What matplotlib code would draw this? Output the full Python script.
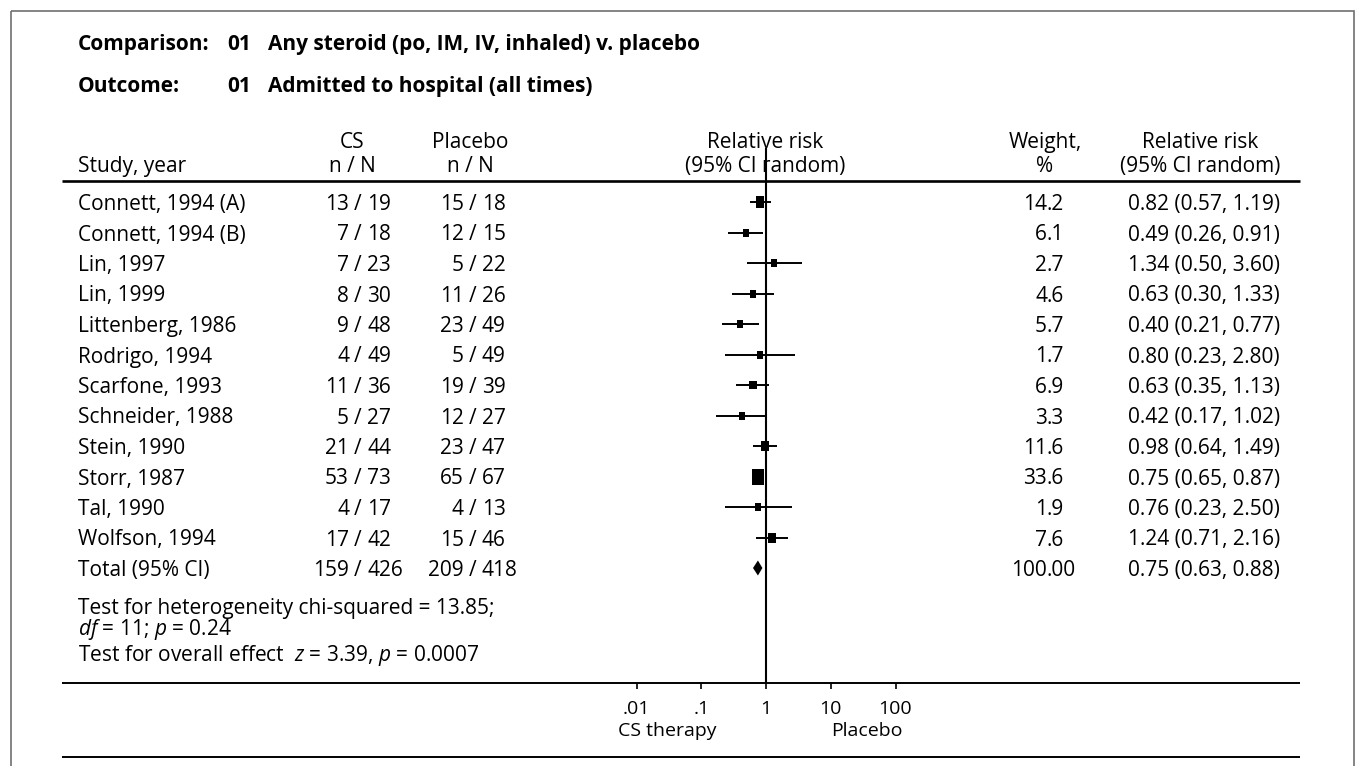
import numpy as np
import matplotlib.pyplot as plt
from matplotlib.path import Path
from matplotlib.patches import Rectangle
from matplotlib.ticker import NullLocator

plt.rcParams['font.family'] = ['Open Sans', 'DejaVu Sans']
plt.rcParams['mathtext.fontset'] = 'custom'
plt.rcParams['mathtext.rm'] = 'Open Sans'
plt.rcParams['mathtext.it'] = 'Open Sans:italic'

# data
studies = ["Connett, 1994 (A)", "Connett, 1994 (B)", "Lin, 1997", "Lin, 1999",
           "Littenberg, 1986", "Rodrigo, 1994", "Scarfone, 1993", "Schneider, 1988",
           "Stein, 1990", "Storr, 1987", "Tal, 1990", "Wolfson, 1994"]
cs_n = [13, 7, 7, 8, 9, 4, 11, 5, 21, 53, 4, 17]
cs_N = [19, 18, 23, 30, 48, 49, 36, 27, 44, 73, 17, 42]
pl_n = [15, 12, 5, 11, 23, 5, 19, 12, 23, 65, 4, 15]
pl_N = [18, 15, 22, 26, 49, 49, 39, 27, 47, 67, 13, 46]
weights = [14.2, 6.1, 2.7, 4.6, 5.7, 1.7, 6.9, 3.3, 11.6, 33.6, 1.9, 7.6]
rr = [0.82, 0.49, 1.34, 0.63, 0.40, 0.80, 0.63, 0.42, 0.98, 0.75, 0.76, 1.24]
rr_lo = [0.57, 0.26, 0.50, 0.30, 0.21, 0.23, 0.35, 0.17, 0.64, 0.65, 0.23, 0.71]
rr_hi = [1.19, 0.91, 3.60, 1.33, 0.77, 2.80, 1.13, 1.02, 1.49, 0.87, 2.50, 2.16]

total_label = "Total (95% CI)"
total_cs = (159, 426)
total_pl = (209, 418)
total_weight = "100.00"
total_rr, total_lo, total_hi = 0.75, 0.63, 0.88

tick_vals = [0.01, 0.1, 1, 10, 100]
tick_labels = [".01", ".1", "1", "10", "100"]

W, H = 1359, 766
FS = 15
fig = plt.figure(figsize=(W / 100, H / 100), dpi=100)

# main canvas in pixel units (y down)
ax = fig.add_axes([0, 0, 1, 1])
ax.set_xlim(0, W)
ax.set_ylim(H, 0)
ax.axis('off')

# frame around the panel (open at the bottom)
ax.add_patch(Rectangle((11, 11), 1343, 800, fill=False, edgecolor='#707070',
                       lw=1.2, clip_on=False))

# headings
for y, lab, num, txt in [(50, "Comparison:", "01", "Any steroid (po, IM, IV, inhaled) v. placebo"),
                         (92, "Outcome:", "01", "Admitted to hospital (all times)")]:
    ax.text(78, y, lab, fontsize=FS, fontweight='bold', va='baseline')
    ax.text(227, y, num, fontsize=FS, fontweight='bold', va='baseline')
    ax.text(268, y, txt, fontsize=FS, fontweight='bold', va='baseline')

# column headers
ax.text(78, 172, "Study, year", fontsize=FS, va='baseline')
for x, l1, l2 in [(352, "CS", "n / N"), (470, "Placebo", "n / N"),
                  (765, "Relative risk", "(95% CI random)"), (1045, "Weight,", "%"),
                  (1200, "Relative risk", "(95% CI random)")]:
    ax.text(x, 148, l1, fontsize=FS, ha='center', va='baseline')
    ax.text(x, 172, l2, fontsize=FS, ha='center', va='baseline')

# horizontal rules
ax.plot([62, 1300], [181, 181], color='black', lw=1.9, solid_capstyle='butt')
ax.plot([62, 1300], [683, 683], color='black', lw=1.4, solid_capstyle='butt')
ax.plot([62, 1300], [757, 757], color='black', lw=1.4, solid_capstyle='butt')

row0, dy = 202, 30.5
n_rows = len(studies) + 1
row_y = row0 + dy * np.arange(n_rows)


def counts(slash_x, y, n, N):
    ax.text(slash_x - 9, y, str(n), fontsize=FS, ha='right', va='baseline')
    ax.text(slash_x, y, "/", fontsize=FS, ha='center', va='baseline')
    ax.text(slash_x + 9, y, str(N), fontsize=FS, ha='left', va='baseline')


def weight_text(y, s):
    ip, fp = s.split('.')
    ax.text(1047, y, ip, fontsize=FS, ha='right', va='baseline')
    ax.text(1047, y, '.' + fp, fontsize=FS, ha='left', va='baseline')


for i in range(len(studies)):
    yb = row_y[i] + 8
    ax.text(78, yb, studies[i], fontsize=FS, va='baseline')
    counts(358, yb, cs_n[i], cs_N[i])
    counts(473, yb, pl_n[i], pl_N[i])
    weight_text(yb, f"{weights[i]:.1f}")
    ax.text(1280, yb, f"{rr[i]:.2f} ({rr_lo[i]:.2f}, {rr_hi[i]:.2f})",
            fontsize=FS, ha='right', va='baseline')

yb = row_y[-1] + 8
ax.text(78, yb, total_label, fontsize=FS, va='baseline')
counts(358, yb, *total_cs)
counts(473, yb, *total_pl)
weight_text(yb, total_weight)
ax.text(1280, yb, f"{total_rr:.2f} ({total_lo:.2f}, {total_hi:.2f})",
        fontsize=FS, ha='right', va='baseline')

ax.text(78, 614, "Test for heterogeneity chi-squared = 13.85;", fontsize=FS, va='baseline')
ax.text(78, 635, r"$\mathit{df}$ = 11; $\mathit{p}$ = 0.24", fontsize=FS, va='baseline')
ax.text(78, 661, r"Test for overall effect  $\mathit{z}$ = 3.39, $\mathit{p}$ = 0.0007",
        fontsize=FS, va='baseline')

ax.text(667, 736, "CS therapy", fontsize=FS - 1, ha='center', va='baseline')
ax.text(867, 736, "Placebo", fontsize=FS - 1, ha='center', va='baseline')

# forest plot panel on a log scale
px_one, px_dec = 766, 64.75
fl, fr, ftop, fbot = 572, 960, 148, 683
fax = fig.add_axes([fl / W, 1 - fbot / H, (fr - fl) / W, (fbot - ftop) / H])
fax.set_xscale('log')
fax.set_xlim(10 ** ((fl - px_one) / px_dec), 10 ** ((fr - px_one) / px_dec))
fax.set_ylim(fbot, ftop)
fax.patch.set_visible(False)
for s in fax.spines.values():
    s.set_visible(False)
fax.set_yticks([])
fax.set_xticks(tick_vals)
fax.set_xticklabels(tick_labels)
fax.xaxis.set_minor_locator(NullLocator())
fax.tick_params(axis='x', direction='out', length=4.5, width=1.2, pad=8, labelsize=FS - 1)

fax.vlines(1, ftop, fbot, color='black', lw=1.5)

box = Path([(-0.78, -1), (0.78, -1), (0.78, 1), (-0.78, 1), (-0.78, -1)],
           [Path.MOVETO, Path.LINETO, Path.LINETO, Path.LINETO, Path.CLOSEPOLY])
for i in range(len(studies)):
    fax.hlines(row_y[i], rr_lo[i], rr_hi[i], color='black', lw=1.4)
    h_px = max(8, 4 + 1.9 * np.sqrt(weights[i]))
    fax.plot(rr[i], row_y[i], marker=box, markersize=h_px * 0.72,
             color='black', markeredgewidth=0, linestyle='none')

ty = row_y[-1]
fax.fill([total_lo, total_rr, total_hi, total_rr], [ty, ty - 7.5, ty, ty + 7.5],
         color='black', lw=0)

fig.savefig('out.png', dpi=100)
